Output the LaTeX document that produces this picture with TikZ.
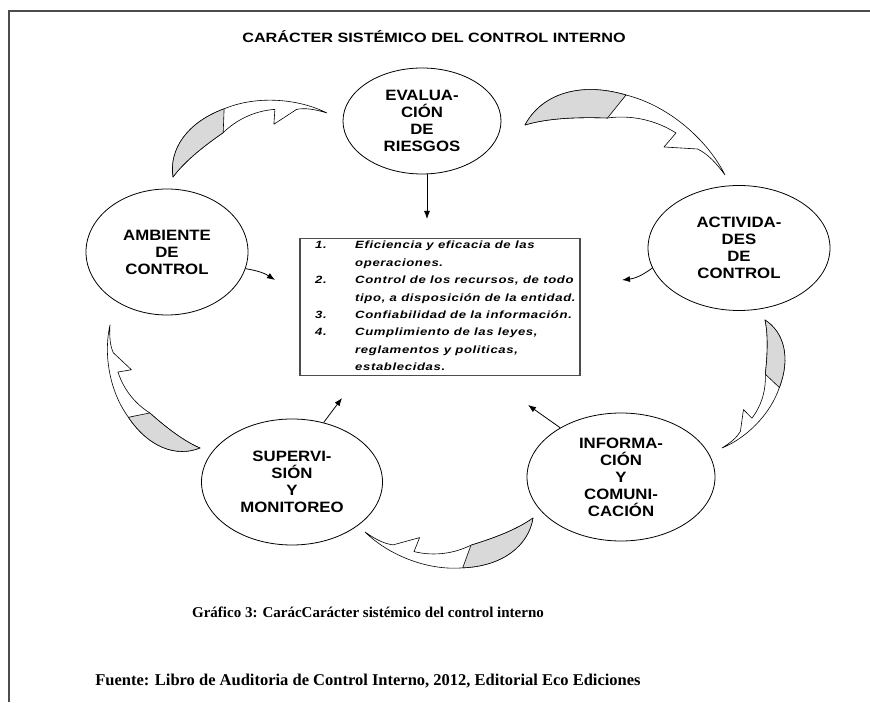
\documentclass[tikz,border=0pt]{standalone}
\usepackage{fontspec}
\setmainfont{Liberation Serif}
\newfontfamily\capsfont[FakeStretch=1.2]{Liberation Sans}
\newfontfamily\phasefont[FakeStretch=1.12]{Liberation Sans}
\newfontfamily\listfont[FakeStretch=1.25,LetterSpace=6]{Liberation Sans}
\usepackage{tikz}
\usetikzlibrary{shapes.geometric,arrows.meta,calc}

\tikzset{
  phase/.style={ellipse,draw,line width=0.8pt,align=center,inner sep=0pt,font=\phasefont\bfseries\fontsize{15}{17}\selectfont},
  goalbox/.style={rectangle,draw=gray!60!black,line width=1.2pt,minimum width=280pt,minimum height=137pt},
  flow/.style={-{Latex[length=8pt,width=6pt]},line width=0.8pt},
  swirlline/.style={line width=0.6pt,line join=round},
  swirl/.pic={
    \draw [swirlline,fill=white] (0,0) .. controls (4,16) and (20,27) .. (44,26) .. controls (66,26) and (88,14) .. (100,0)
      .. controls (94,5) and (89,8) .. (84,9) -- (68,6) -- (72,14) .. controls (60,18) and (48,17) .. (38,13)
      .. controls (24,10) and (10,6) .. (0,0) -- cycle;
    \draw [swirlline,fill=gray!30] (0,0) .. controls (4,16) and (20,27) .. (44,26) -- (38,13)
      .. controls (24,10) and (10,6) .. (0,0) -- cycle;
  }
}

\begin{document}
\begin{tikzpicture}[x=1pt,y=1pt]
      \useasboundingbox (0,0) rectangle (870,702);
      \draw [gray!60!black,line width=1.2pt] (9,0) -- (9,691) -- (870,691);
      \node [font=\capsfont\bfseries\fontsize{13.5}{16}\selectfont] (title) at (434,665) {CARÁCTER SISTÉMICO DEL CONTROL INTERNO};

      \coordinate (t1) at (173,525); \coordinate (h1) at (327,589);
      \coordinate (t2) at (525,577); \coordinate (h2) at (725,527);
      \coordinate (t3) at (765,382); \coordinate (h3) at (722,254);
      \coordinate (t4) at (533,184); \coordinate (h4) at (365,170);
      \coordinate (t5) at (200,254); \coordinate (h5) at (110,377);
      \foreach \i in {1,...,5}
        \path let \p1=($(h\i)-(t\i)$) in (t\i) pic [rotate={atan2(\y1,\x1)},scale={veclen(\x1,\y1)/100}] {swirl};

      \node [phase,minimum width=158pt,minimum height=106pt] (eval) at (422,581) {EVALUA-\\CIÓN\\DE\\RIESGOS};
      \node [phase,minimum width=162pt,minimum height=126pt] (amb) at (167,450) {AMBIENTE\\DE\\CONTROL};
      \node [phase,minimum width=182pt,minimum height=125pt] (act) at (739,454) {ACTIVIDA-\\DES\\DE\\CONTROL};
      \node [phase,minimum width=181pt,minimum height=126pt] (sup) at (292,220) {SUPERVI-\\SIÓN\\Y\\MONITOREO};
      \node [phase,minimum width=188pt,minimum height=128pt] (info) at (621,225) {INFORMA-\\CIÓN\\Y\\COMUNI-\\CACIÓN};

      \node [goalbox] (goal) at (440,395) {};
      \node [anchor=west,align=left,inner sep=0pt,font=\listfont\bfseries\itshape\fontsize{10.5}{17.4}\selectfont] (goals) at (315,396)
        {\makebox[40pt][l]{1.}Eficiencia y eficacia de las\\
         \hspace*{40pt}operaciones.\\
         \makebox[40pt][l]{2.}Control de los recursos, de todo\\
         \hspace*{40pt}tipo, a disposición de la entidad.\\
         \makebox[40pt][l]{3.}Confiabilidad de la información.\\
         \makebox[40pt][l]{4.}Cumplimiento de las leyes,\\
         \hspace*{40pt}reglamentos y politicas,\\
         \hspace*{40pt}establecidas.};

      \coordinate (ea) at (427,483);
      \coordinate (aa) at (275,422);
      \coordinate (ca) at (622,422);
      \coordinate (sa) at (342,304);
      \coordinate (ia) at (528,297);
      \draw [flow] (ea |- eval.south) -- (ea);
      \draw [flow] (amb.-12) to [bend left=12] (aa);
      \draw [flow] (act.193) to [bend left=15] (ca);
      \draw [flow] (sup.62) -- (sa);
      \draw [flow] (info.141) -- (ia);

      \node [font=\bfseries\fontsize{15}{18}\selectfont] (caption) at (368,90) {Gráfico 3: CarácCarácter sistémico del control interno};
      \node [font=\bfseries\fontsize{16.5}{19}\selectfont] (source) at (368,21) {Fuente: Libro de Auditoria de Control Interno, 2012, Editorial Eco Ediciones};
    \end{tikzpicture}
\end{document}
